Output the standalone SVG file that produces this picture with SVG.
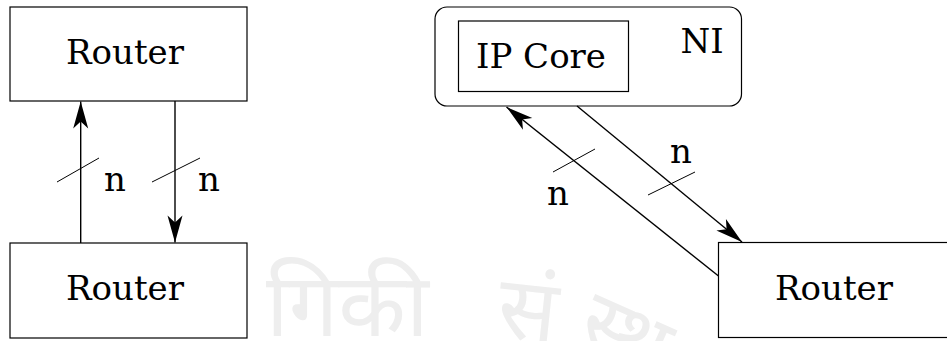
<svg xmlns="http://www.w3.org/2000/svg" width="947" height="341" viewBox="0 0 947 341">
  <style>
    .box { fill: #fff; stroke: #000; stroke-width: 1.2; }
    .wire { fill: none; stroke: #000; stroke-width: 1.4; }
    .tick { fill: none; stroke: #000; stroke-width: 1; }
    .lbl { font-family: "DejaVu Serif", serif; font-size: 34px; fill: #000; }
    .mark { font-family: "Noto Sans Devanagari", sans-serif; font-size: 88px; fill: #eeeeee; }
  </style>
  <defs>
    <marker id="head" markerUnits="userSpaceOnUse" markerWidth="30" markerHeight="20" viewBox="-28 -8 30 16" refX="0" refY="0" orient="auto">
      <path d="M0,0 L-27,-7.5 L-20,0 L-27,7.5 Z" fill="#000"/>
    </marker>
  </defs>

  <!-- faint seal lettering in the background -->
  <g id="seal">
    <text class="mark" x="266" y="336">गिकी</text>
    <text class="mark" x="498" y="340" transform="rotate(6 528 312)">सं</text>
    <text class="mark" x="582" y="362" transform="rotate(24 620 332)">स्थ</text>
  </g>

  <g id="router-top">
    <rect class="box" x="10" y="7" width="237" height="94"/>
    <text class="lbl" x="125" y="64" text-anchor="middle">Router</text>
  </g>
  <g id="router-bottom">
    <rect class="box" x="10" y="243" width="237" height="95"/>
    <text class="lbl" x="125" y="300" text-anchor="middle">Router</text>
  </g>
  <g id="ni">
    <rect class="box" x="435" y="7" width="306.5" height="99" rx="12" ry="12"/>
    <text class="lbl" x="702" y="53" text-anchor="middle">NI</text>
  </g>
  <g id="ip-core">
    <rect class="box" x="458.5" y="21" width="170" height="70.5"/>
    <text class="lbl" x="541" y="68" text-anchor="middle">IP Core</text>
  </g>
  <g id="router-right">
    <rect class="box" x="718.5" y="242.5" width="260" height="95"/>
    <text class="lbl" x="834" y="300" text-anchor="middle">Router</text>
  </g>

  <g id="connectors">
    <line class="wire" x1="80.7" y1="243" x2="80.7" y2="101.5" marker-end="url(#head)"/>
    <line class="wire" x1="175" y1="101" x2="175" y2="242.5" marker-end="url(#head)"/>
    <line class="wire" x1="718.5" y1="276" x2="506.5" y2="107" marker-end="url(#head)"/>
    <line class="wire" x1="577" y1="106" x2="742" y2="242" marker-end="url(#head)"/>
    <line class="tick" x1="57" y1="182" x2="99" y2="158"/>
    <line class="tick" x1="152" y1="182" x2="200" y2="158"/>
    <line class="tick" x1="553" y1="172" x2="595" y2="149"/>
    <line class="tick" x1="648" y1="195" x2="695" y2="172"/>
    <text class="lbl" x="115" y="191" text-anchor="middle">n</text>
    <text class="lbl" x="209" y="191" text-anchor="middle">n</text>
    <text class="lbl" x="681" y="163" text-anchor="middle">n</text>
    <text class="lbl" x="558" y="205" text-anchor="middle">n</text>
  </g>
</svg>
